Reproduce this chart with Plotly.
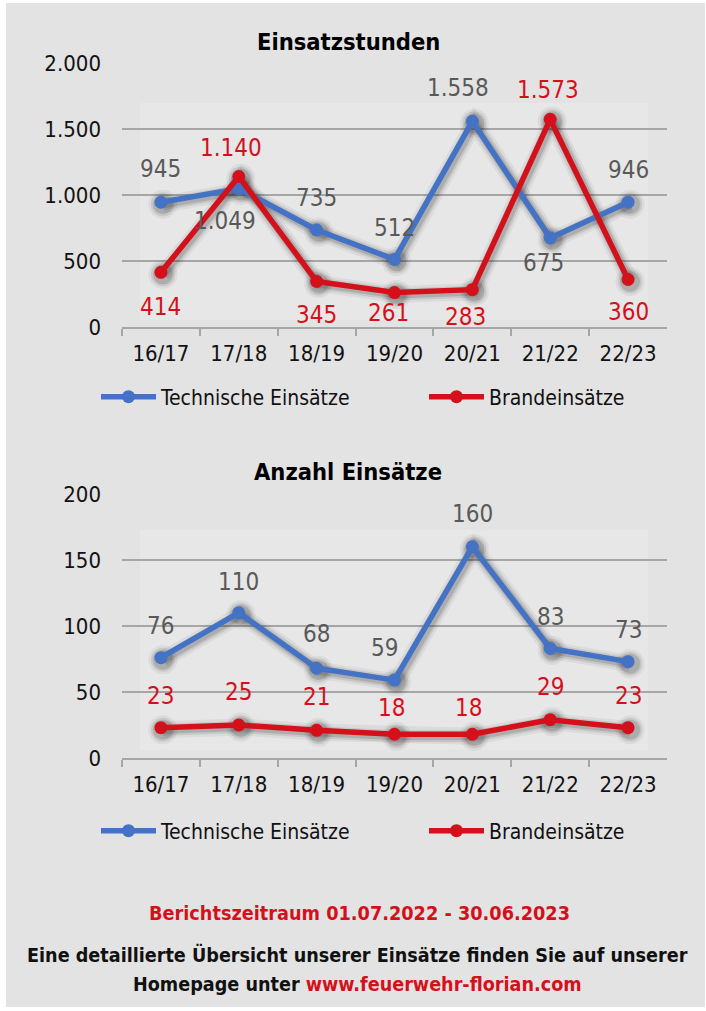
import plotly.graph_objects as go

# ---------------- data ----------------
categories = ["16/17", "17/18", "18/19", "19/20", "20/21", "21/22", "22/23"]
stunden_technisch = [945, 1049, 735, 512, 1558, 675, 946]
stunden_brand = [414, 1140, 345, 261, 283, 1573, 360]
anzahl_technisch = [76, 110, 68, 59, 160, 83, 73]
anzahl_brand = [23, 25, 21, 18, 18, 29, 23]
series_names = ["Technische Einsätze", "Brandeinsätze"]
chart_titles = ["Einsatzstunden", "Anzahl Einsätze"]
y_ticks_1 = [0, 500, 1000, 1500, 2000]
y_ticks_2 = [0, 50, 100, 150, 200]
footer_period = "Berichtszeitraum 01.07.2022 - 30.06.2023"
footer_line1 = "Eine detaillierte Übersicht unserer Einsätze finden Sie auf unserer"
footer_line2_a = "Homepage unter "
footer_line2_b = "www.feuerwehr-florian.com"

# ---------------- styles ----------------
W, H = 706, 1011
FONT = "DejaVu Sans Condensed, DejaVu Sans, sans-serif"
BLUE = "#4472c4"
RED = "#d4111b"
LABEL_GRAY = "#595959"
LABEL_RED = "#d4111b"
GRID = "#a6a6a6"
BG = "#e3e3e3"
INNER = "#e7e7e8"
SHADOW_DX, SHADOW_DY = 2, 2  # px offset of the drop shadow

# label offsets (px) relative to points: (xshift, yshift)
off_1_tech = [(0, 33), (-14, -32), (0, 32), (0, 31), (-14, 33), (-7, -25), (0, 32)]
off_1_brand = [(0, -35), (-8, 29), (0, -34), (-6, -20), (-7, -27), (-2, 29), (0, -33)]
off_2_tech = [(0, 32), (0, 31), (0, 34), (-10, 32), (0, 33), (0, 31), (0, 32)]
off_2_brand = [(0, 32), (0, 33), (0, 33), (-3, 26), (-4, 26), (0, 33), (0, 32)]


def py(px):
    return 1 - px / H


def px_x(px):
    return px / W


def fmt(v):
    return f"{v:,}".replace(",", ".")


fig = go.Figure()

PLOT_X0, PLOT_X1 = 122, 667
xdom = [px_x(PLOT_X0), px_x(PLOT_X1)]
x_range = [-0.5, len(categories) - 0.5]

# base axes (grid/ticks): 1,2 ; shadow overlays: 3,4 ; line overlays: 5,6
panels = [
    dict(n=1, sn=3, ln=5, tech=stunden_technisch, brand=stunden_brand,
         ticks=y_ticks_1, rng=[0, 2000], top=63, bottom=327,
         legends=("legend", "legend2"),
         off_t=off_1_tech, off_b=off_1_brand, title_y=42, leg_y=397,
         inner=(140, 103, 648, 320)),
    dict(n=2, sn=4, ln=6, tech=anzahl_technisch, brand=anzahl_brand,
         ticks=y_ticks_2, rng=[0, 200], top=494, bottom=758,
         legends=("legend3", "legend4"),
         off_t=off_2_tech, off_b=off_2_brand, title_y=472, leg_y=831,
         inner=(140, 530, 648, 750)),
]


def ax_id(letter, n):
    return letter if n == 1 else f"{letter}{n}"


shapes = [
    dict(type="rect", xref="paper", yref="paper", x0=px_x(6), x1=px_x(705),
         y0=py(1007), y1=py(3), fillcolor=BG, line=dict(width=0), layer="below"),
]
annotations = []

for i, p in enumerate(panels):
    bx, by = ax_id("x", p["n"]), ax_id("y", p["n"])
    sx, sy = ax_id("x", p["sn"]), ax_id("y", p["sn"])
    lx, ly = ax_id("x", p["ln"]), ax_id("y", p["ln"])
    x0, y0, x1, y1 = p["inner"]
    shapes.append(dict(type="rect", xref="paper", yref="paper",
                       x0=px_x(x0), x1=px_x(x1), y0=py(y1), y1=py(y0),
                       fillcolor=INNER, line=dict(width=0), layer="below"))
    # invisible carrier trace so the base (grid/tick) subplot is drawn
    fig.add_trace(go.Scatter(
        x=categories, y=p["tech"], xaxis=bx, yaxis=by, mode="lines",
        line=dict(width=0), opacity=0, showlegend=False, hoverinfo="skip"))
    # blurred drop shadows on offset overlay axes
    for vals in (p["tech"], p["brand"]):
        for w, a in ((17, 0.06), (12, 0.10), (8, 0.15)):
            fig.add_trace(go.Scatter(
                x=categories, y=vals, xaxis=sx, yaxis=sy,
                mode="lines+markers", showlegend=False, hoverinfo="skip",
                line=dict(color=f"rgba(30,30,30,{a})", width=w),
                marker=dict(size=12 + w, color=f"rgba(30,30,30,{a})"),
            ))
    for vals, color, name, lg in ((p["tech"], BLUE, series_names[0], p["legends"][0]),
                                  (p["brand"], RED, series_names[1], p["legends"][1])):
        fig.add_trace(go.Scatter(
            x=categories, y=vals, xaxis=lx, yaxis=ly, name=name,
            mode="lines+markers", legend=lg,
            line=dict(color=color, width=5.5),
            marker=dict(size=13, color=color),
        ))
    for vals, offs, col in ((p["tech"], p["off_t"], LABEL_GRAY),
                            (p["brand"], p["off_b"], LABEL_RED)):
        for c, v, (dx, dy) in zip(categories, vals, offs):
            annotations.append(dict(
                x=c, y=v, xref=lx, yref=ly, text=fmt(v),
                showarrow=False, xshift=dx, yshift=dy,
                font=dict(family=FONT, size=24, color=col),
            ))
    annotations.append(dict(
        x=0.493, y=py(p["title_y"]), xref="paper", yref="paper",
        text=f"<b>{chart_titles[i]}</b>", showarrow=False,
        xanchor="center", yanchor="middle",
        font=dict(family=FONT, size=23.5, color="#000000"),
    ))

annotations.append(dict(x=px_x(359), y=py(913), xref="paper", yref="paper",
                        text=f"<b>{footer_period}</b>", showarrow=False,
                        xanchor="center", yanchor="middle",
                        font=dict(family=FONT, size=19.7, color="#d4111b")))
annotations.append(dict(x=px_x(358), y=py(955), xref="paper", yref="paper",
                        text=f"<b>{footer_line1}</b>", showarrow=False,
                        xanchor="center", yanchor="middle",
                        font=dict(family=FONT, size=19.6, color="#111111")))
annotations.append(dict(x=px_x(358), y=py(984), xref="paper", yref="paper",
                        text=f"<b>{footer_line2_a}<span style='color:#d4111b'>{footer_line2_b}</span></b>",
                        showarrow=False, xanchor="center", yanchor="middle",
                        font=dict(family=FONT, size=19.6, color="#111111")))

x_per_px = (x_range[1] - x_range[0]) / (PLOT_X1 - PLOT_X0)
layout_axes = {}
for p in panels:
    bx, by = ax_id("x", p["n"]), ax_id("y", p["n"])
    sx, sy = ax_id("x", p["sn"]), ax_id("y", p["sn"])
    lx, ly = ax_id("x", p["ln"]), ax_id("y", p["ln"])
    ydom = [py(p["bottom"]), py(p["top"])]
    cat = dict(type="category", categoryarray=categories, categoryorder="array")
    layout_axes["xaxis" + bx[1:]] = dict(
        cat, range=x_range, domain=xdom, anchor=by,
        showgrid=False, showline=True, linecolor=GRID, linewidth=1.5,
        ticks="outside", tickson="boundaries", ticklen=7, tickcolor=GRID,
        tickwidth=1.5, ticklabelstandoff=6, automargin=False,
        tickfont=dict(family=FONT, size=22, color="#111111"), fixedrange=True)
    layout_axes["yaxis" + by[1:]] = dict(
        domain=ydom, range=p["rng"],
        anchor=bx, tickvals=p["ticks"], tickformat=",d",
        showgrid=True, gridcolor=GRID, gridwidth=1.5, zeroline=False,
        showline=False, ticks="", ticklabelstandoff=20, automargin=False,
        tickfont=dict(family=FONT, size=22, color="#111111"), fixedrange=True,
    )
    y_per_px = (p["rng"][1] - p["rng"][0]) / (p["bottom"] - p["top"])
    layout_axes["xaxis" + sx[1:]] = dict(
        cat, overlaying=bx, anchor=sy, domain=xdom,
        range=[x_range[0] - SHADOW_DX * x_per_px, x_range[1] - SHADOW_DX * x_per_px],
        visible=False, fixedrange=True,
    )
    layout_axes["yaxis" + sy[1:]] = dict(
        overlaying=by, anchor=sx, domain=ydom,
        range=[p["rng"][0] + SHADOW_DY * y_per_px, p["rng"][1] + SHADOW_DY * y_per_px],
        visible=False, fixedrange=True,
    )
    layout_axes["xaxis" + lx[1:]] = dict(
        cat, overlaying=bx, anchor=ly, domain=xdom, range=x_range,
        visible=False, fixedrange=True,
    )
    layout_axes["yaxis" + ly[1:]] = dict(
        overlaying=by, anchor=lx, domain=ydom, range=p["rng"],
        visible=False, fixedrange=True,
    )

legend_style = dict(orientation="h", xanchor="left", yanchor="middle",
                    bgcolor="rgba(0,0,0,0)",
                    font=dict(family=FONT, size=21, color="#111111"),
                    itemwidth=55)

legends = {}
for p in panels:
    legends[p["legends"][0]] = dict(legend_style, x=px_x(102 - 6), y=py(p["leg_y"]))
    legends[p["legends"][1]] = dict(legend_style, x=px_x(430 - 6), y=py(p["leg_y"]))

fig.update_layout(
    width=W, height=H, margin=dict(l=0, r=0, t=0, b=0, autoexpand=False),
    paper_bgcolor="#ffffff", plot_bgcolor="rgba(0,0,0,0)",
    separators=",.", showlegend=True,
    shapes=shapes, annotations=annotations,
    **legends,
    **layout_axes,
)

fig.write_html("out.html", config={"displayModeBar": False},
               post_script="document.body.style.margin='0';document.body.style.overflow='hidden';")
